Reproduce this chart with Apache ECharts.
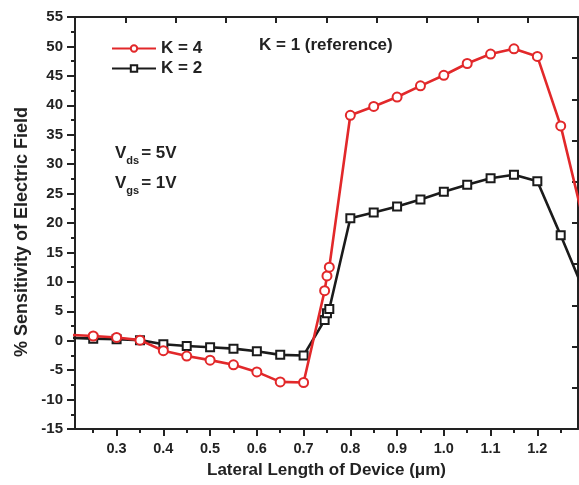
<!DOCTYPE html>
<html>
<head>
<meta charset="utf-8">
<script src="https://cdn.jsdelivr.net/npm/echarts@6/dist/echarts.min.js"></script>
<style>
html,body{margin:0;padding:0;background:#fff;}
#c{width:579px;height:485px;}
</style>
</head>
<body>
<div id="c"></div>
<script>
var xValues = [0.2, 0.25, 0.3, 0.35, 0.4, 0.45, 0.5, 0.55, 0.6, 0.65, 0.7, 0.745, 0.75, 0.755, 0.8, 0.85, 0.9, 0.95, 1.0, 1.05, 1.1, 1.15, 1.2, 1.25, 1.3];
var k4Values = [1.0, 0.8, 0.55, 0.1, -1.7, -2.6, -3.3, -4.1, -5.3, -7.0, -7.1, 8.5, 11.0, 12.5, 38.3, 39.8, 41.4, 43.3, 45.1, 47.1, 48.7, 49.6, 48.3, 36.5, 20.0];
var k2Values = [0.5, 0.35, 0.25, 0.1, -0.6, -0.9, -1.1, -1.35, -1.8, -2.4, -2.5, 3.5, 4.65, 5.4, 20.8, 21.8, 22.8, 24.0, 25.3, 26.5, 27.6, 28.2, 27.1, 17.9, 8.4];
var xTickLabels = [0.3, 0.4, 0.5, 0.6, 0.7, 0.8, 0.9, 1.0, 1.1, 1.2];
var xMinorTicks = [0.25, 0.35, 0.45, 0.55, 0.65, 0.75, 0.85, 0.95, 1.05, 1.15, 1.25];
var seriesNames = ['K = 4', 'K = 2'];

function pairs(xs, ys) { return xs.map(function (x, i) { return [x, ys[i]]; }); }

var FONT = '"Liberation Sans", Arial, sans-serif';
var RED = '#e2282a';
var BLK = '#1b1b1b';
var AX = '#222';

var chart = echarts.init(document.getElementById('c'), null, {renderer: 'canvas'});
chart.setOption({
  animation: false,
  backgroundColor: '#fff',
  grid: {left: 75, top: 17, right: 1, bottom: 56, containLabel: false},
  legend: {
    left: 106, top: 35, orient: 'vertical', itemWidth: 44, itemHeight: 8, itemGap: 3,
    data: seriesNames,
    textStyle: {fontFamily: FONT, fontWeight: 'bold', fontSize: 17, color: '#222'}
  },
  xAxis: [
    {
      type: 'value', min: 0.211, max: 1.287, position: 'bottom',
      name: 'Lateral Length of Device (\u03bcm)', nameLocation: 'middle', nameGap: 33,
      nameTextStyle: {fontFamily: FONT, fontWeight: 'bold', fontSize: 17, color: '#222'},
      axisLine: {show: true, onZero: false, lineStyle: {color: AX, width: 2}},
      axisTick: {show: true, inside: false, length: 7, customValues: xTickLabels, lineStyle: {color: AX, width: 2}},
      axisLabel: {show: true, margin: 12, customValues: xTickLabels, fontFamily: FONT, fontWeight: 'bold', fontSize: 14.5, color: '#222',
        formatter: function (v) { return Number(v).toFixed(1); }},
      splitLine: {show: false}
    },
    {
      type: 'value', min: 0.211, max: 1.287, position: 'bottom',
      axisLine: {show: false, onZero: false},
      axisTick: {show: true, inside: false, length: 4, customValues: xMinorTicks, lineStyle: {color: AX, width: 2}},
      axisLabel: {show: false},
      splitLine: {show: false}
    },
    {
      type: 'value', min: 0, max: 10, interval: 1, position: 'top',
      axisLine: {show: true, onZero: false, lineStyle: {color: AX, width: 2}},
      axisTick: {show: true, inside: true, length: 6, lineStyle: {color: AX, width: 2}},
      axisLabel: {show: false},
      splitLine: {show: false}
    }
  ],
  yAxis: [
    {
      type: 'value', min: -15, max: 55, interval: 5, position: 'left',
      axisLine: {show: true, onZero: false, lineStyle: {color: AX, width: 2}},
      axisTick: {show: true, inside: false, length: 8, lineStyle: {color: AX, width: 2}},
      minorTick: {show: true, splitNumber: 2, length: 4, lineStyle: {color: AX, width: 2}},
      axisLabel: {margin: 12, fontFamily: FONT, fontWeight: 'bold', fontSize: 15, color: '#222'},
      splitLine: {show: false}
    },
    {
      type: 'value', min: 0, max: 10, interval: 1, position: 'right',
      axisLine: {show: true, onZero: false, lineStyle: {color: AX, width: 2}},
      axisTick: {show: true, inside: true, length: 6, lineStyle: {color: AX, width: 2}},
      axisLabel: {show: false},
      splitLine: {show: false}
    }
  ],
  graphic: [
    {type: 'text', x: 22, y: 232, rotation: Math.PI / 2, style: {
      text: '% Sensitivity of Electric Field', font: 'bold 18px ' + FONT, fill: '#222', align: 'center', verticalAlign: 'middle'}},
    {type: 'text', left: 259, top: 37, style: {text: 'K = 1 (reference)', font: 'bold 17px ' + FONT, fill: '#222'}},
    {type: 'text', left: 115, top: 145, style: {
      text: '{v|V}{s|ds}{v|= 5V}', fill: '#222',
      rich: {v: {font: 'bold 17px ' + FONT, fill: '#222'}, s: {font: 'bold 11px ' + FONT, fill: '#222', padding: [14, 2, 0, 0]}}
    }},
    {type: 'text', left: 115, top: 175, style: {
      text: '{v|V}{s|gs}{v|= 1V}', fill: '#222',
      rich: {v: {font: 'bold 17px ' + FONT, fill: '#222'}, s: {font: 'bold 11px ' + FONT, fill: '#222', padding: [14, 2, 0, 0]}}
    }}
  ],
  series: [
    {
      name: seriesNames[0], type: 'line', xAxisIndex: 0, yAxisIndex: 0, z: 4,
      data: pairs(xValues, k4Values),
      symbol: 'emptyCircle', symbolSize: 9,
      lineStyle: {color: RED, width: 2.6},
      itemStyle: {color: RED, borderColor: RED, borderWidth: 1.8},
      clip: true
    },
    {
      name: seriesNames[1], type: 'line', xAxisIndex: 0, yAxisIndex: 0, z: 3,
      data: pairs(xValues, k2Values),
      symbol: 'emptyRect', symbolSize: 8,
      lineStyle: {color: BLK, width: 2.6},
      itemStyle: {color: BLK, borderColor: BLK, borderWidth: 1.6},
      clip: true
    }
  ]
});
</script>
</body>
</html>
